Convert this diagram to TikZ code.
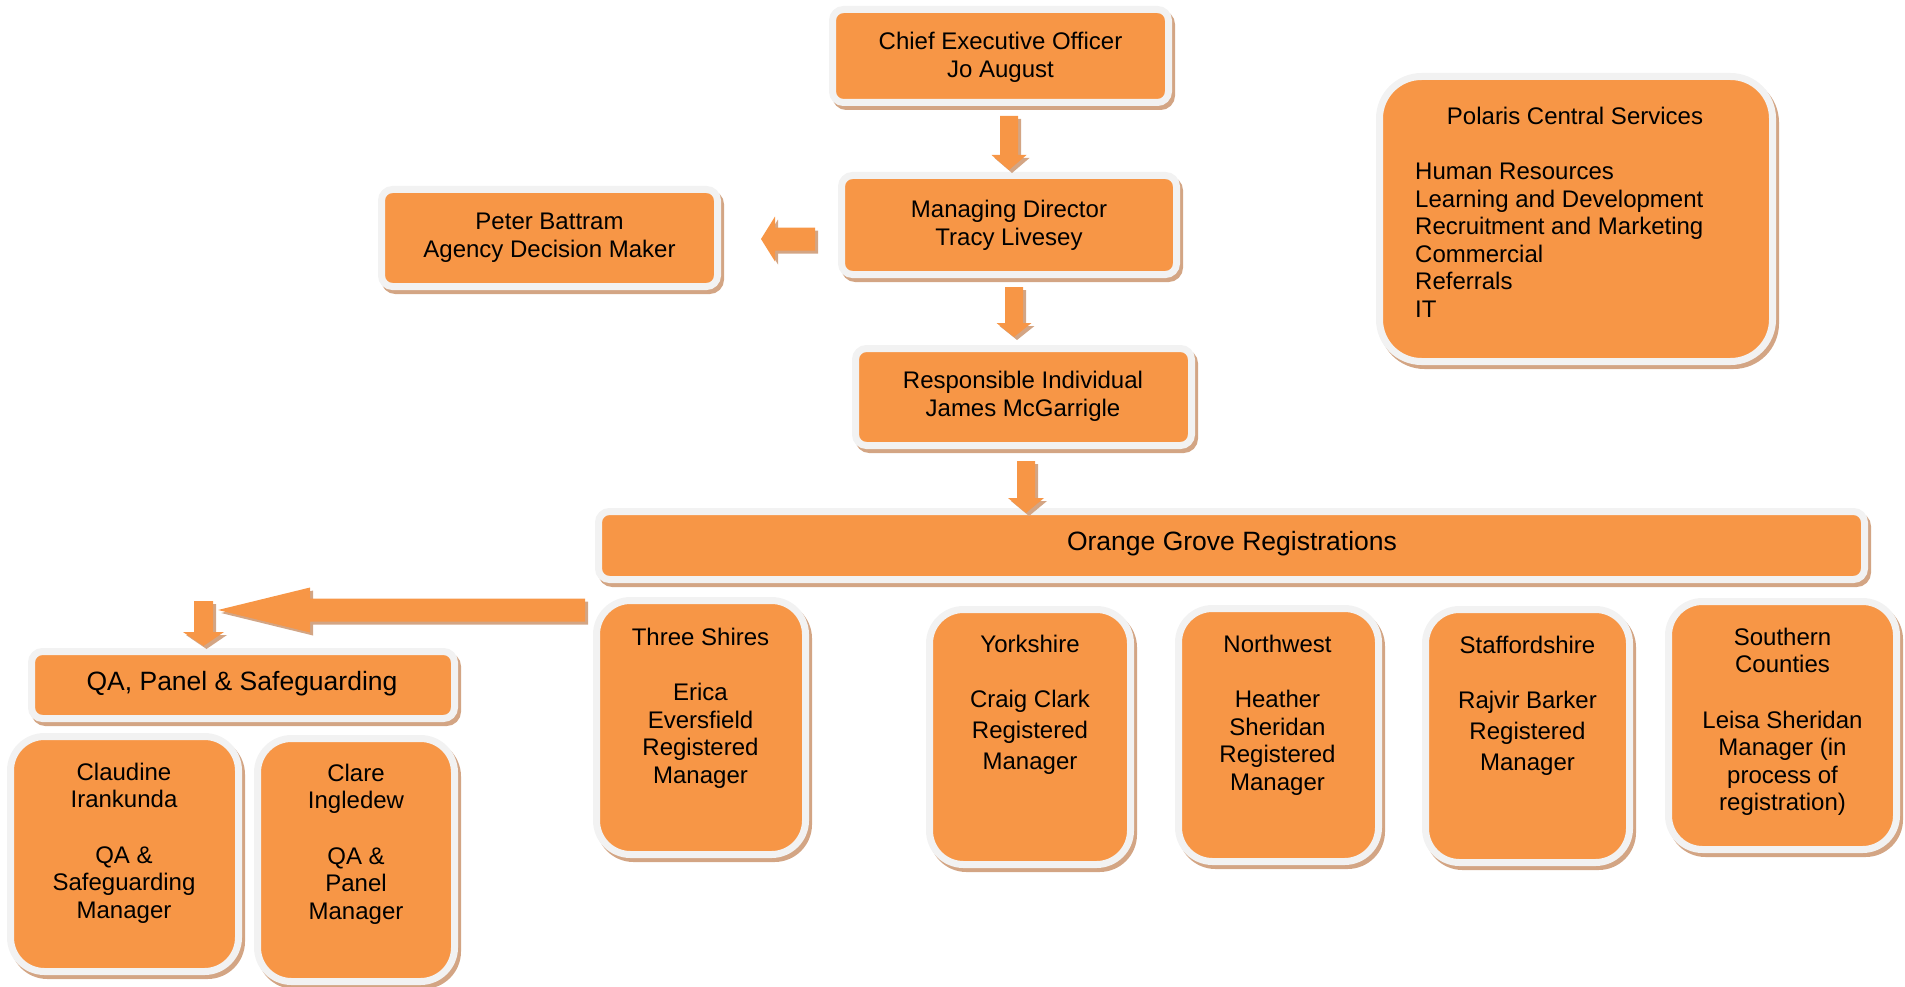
\documentclass[tikz,border=0pt]{standalone}
\usepackage{fontspec}
\setmainfont{Liberation Sans}
\definecolor{boxorange}{HTML}{F79646}
\definecolor{bordergrey}{HTML}{F2F2F2}
\definecolor{shadowtan}{HTML}{D3A584}
\tikzset{
  box/.style={draw=bordergrey, line width=7pt, fill=boxorange, rounded corners=#1, inner sep=0pt,
    preaction={draw=shadowtan, fill=shadowtan, line width=7pt, transform canvas={shift={(3pt,-4pt)}}}},
  box/.default=11pt,
  txt/.style={font=\fontsize{24}{27.6}\selectfont, align=center, inner sep=0pt, anchor=north, text=black},
  bigtxt/.style={font=\fontsize{26.5}{30}\selectfont, inner sep=0pt, anchor=base, text=black},
  arrfill/.style={fill=boxorange},
  arrshadow/.style={fill=shadowtan}
}
% down block arrow: x, top, head base, tip, shaft half width, head half width
\newcommand\BArrDown[6]{%
  \begin{scope}[shift={(3,3)}]
    \fill[arrshadow] (#1-#5,#2) -- (#1+#5,#2) -- (#1+#5,#3) -- (#1+#6,#3) -- (#1,#4) -- (#1-#6,#3) -- (#1-#5,#3) -- cycle;
  \end{scope}
  \fill[arrfill] (#1-#5,#2) -- (#1+#5,#2) -- (#1+#5,#3) -- (#1+#6,#3) -- (#1,#4) -- (#1-#6,#3) -- (#1-#5,#3) -- cycle;
}
% left block arrow: y, right, head base, tip, shaft half width, head half width
\newcommand\BArrLeft[6]{%
  \begin{scope}[shift={(3,3)}]
    \fill[arrshadow] (#2,#1-#5) -- (#2,#1+#5) -- (#3,#1+#5) -- (#3,#1+#6) -- (#4,#1) -- (#3,#1-#6) -- (#3,#1-#5) -- cycle;
  \end{scope}
  \fill[arrfill] (#2,#1-#5) -- (#2,#1+#5) -- (#3,#1+#5) -- (#3,#1+#6) -- (#4,#1) -- (#3,#1-#6) -- (#3,#1-#5) -- cycle;
}
\begin{document}
\begin{tikzpicture}[x=1pt,y=-1pt]
\useasboundingbox (0,0) rectangle (1905,987);

% boxes
\node[box, minimum width=336pt, minimum height=93pt] (ceo) at (1000.5,56) {};
\node[box, minimum width=335pt, minimum height=99pt] (md) at (1009,225) {};
\node[box, minimum width=336pt, minimum height=97pt] (peter) at (549.5,238) {};
\node[box, minimum width=336pt, minimum height=97pt] (ri) at (1023.5,397) {};
\node[box, minimum width=1266pt, minimum height=68pt] (og) at (1231.5,545.5) {};
\node[box, minimum width=423pt, minimum height=67pt] (qa) at (243,685) {};
\node[box=34pt, minimum width=228pt, minimum height=235pt] (claudine) at (124.5,854) {};
\node[box=34pt, minimum width=197pt, minimum height=243pt] (clare) at (356,860) {};
\node[box=34pt, minimum width=209pt, minimum height=254pt] (three) at (701,727.5) {};
\node[box=34pt, minimum width=201pt, minimum height=255pt] (york) at (1030,737) {};
\node[box=34pt, minimum width=200pt, minimum height=253pt] (nw) at (1278.5,735) {};
\node[box=34pt, minimum width=204pt, minimum height=253pt] (staff) at (1527.5,736) {};
\node[box=34pt, minimum width=228pt, minimum height=248pt] (south) at (1782.5,725.5) {};
\node[box=42pt, minimum width=393pt, minimum height=285pt] (polaris) at (1576,219) {};

% texts
\node[txt] (ceoT) at (1000.5,32) {Chief Executive Officer\\Jo August};
\node[txt] (mdT) at (1009,200) {Managing Director\\Tracy Livesey};
\node[txt] (peterT) at (549.5,213) {Peter Battram\\Agency Decision Maker};
\node[txt] (riT) at (1023,371) {Responsible Individual\\James McGarrigle};
\node[bigtxt] (ogT) at (1232,550) {Orange Grove Registrations};
\node[bigtxt] (qaT) at (242,690) {QA, Panel \& Safeguarding};
\node[txt] (claudineT) at (124,762.7) {Claudine\\Irankunda\\[27.6pt]QA \&\\Safeguarding\\Manager};
\node[txt] (clareT) at (356,763.7) {Clare\\Ingledew\\[27.6pt]QA \&\\Panel\\Manager};
\node[txt] (threeT) at (700.5,627.7) {Three Shires\\[27.6pt]Erica\\Eversfield\\Registered\\Manager};
\node[txt] (yorkT) at (1030,634.7) {Yorkshire\\[28pt]Craig Clark\\[3.4pt]Registered\\[3.4pt]Manager};
\node[txt] (nwT) at (1277.5,634.7) {Northwest\\[27.6pt]Heather\\Sheridan\\Registered\\Manager};
\node[txt] (staffT) at (1527.5,635.7) {Staffordshire\\[27.6pt]Rajvir Barker\\[3.4pt]Registered\\[3.4pt]Manager};
\node[txt] (southT) at (1782.5,627.7) {Southern\\Counties\\[27.6pt]Leisa Sheridan\\Manager (in\\process of\\registration)};
\node[txt, anchor=base] (polT) at (1575,125) {Polaris Central Services};
\node[txt, anchor=north west, align=left] (polL) at (1415,162.7) {Human Resources\\Learning and Development\\Recruitment and Marketing\\Commercial\\Referrals\\IT};

% block arrows
\BArrDown{1009}{116}{155}{170}{9}{17.5}
\BArrDown{1014}{287}{323}{337}{9}{17.5}
\BArrDown{1026}{461}{498}{513}{9}{18}
\BArrDown{203.5}{601}{632}{646}{9.5}{20.5}
\BArrLeft{239}{815}{775}{761}{11.5}{22.5}
\BArrLeft{610}{585}{310}{218}{11.5}{22.5}
\end{tikzpicture}
\end{document}
